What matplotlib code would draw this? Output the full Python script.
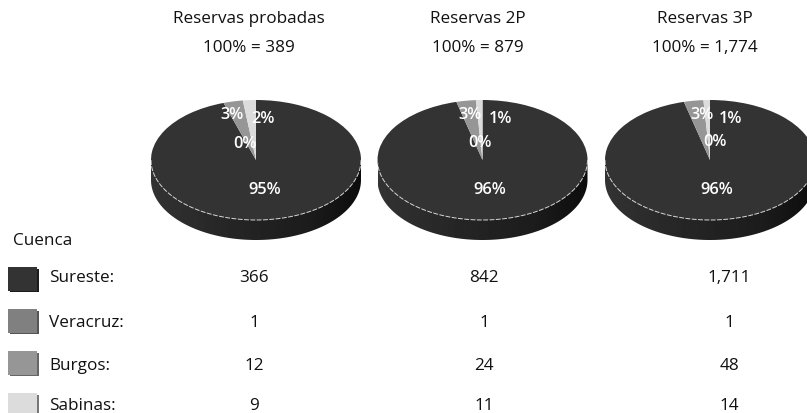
import numpy as np
import matplotlib
matplotlib.use("Agg")
import matplotlib.pyplot as plt
from matplotlib.patches import Rectangle
from matplotlib.path import Path
from matplotlib.patches import PathPatch

plt.rcParams['font.family'] = ['Open Sans', 'DejaVu Sans']

W, H = 807, 414

titles = ["Reservas probadas", "Reservas 2P", "Reservas 3P"]
totals = ["100% = 389", "100% = 879", "100% = 1,774"]
cuencas = ["Sureste:", "Veracruz:", "Burgos:", "Sabinas:"]
colores = ["#333333", "#808080", "#969696", "#dcdcdc"]
sombras = ["#1c1c1c", "#555555", "#666666", "#777777"]

# porcentajes por cuenca, en el orden de las rebanadas
pct_probadas = [95, 0, 3, 2]
pct_2p = [96, 0, 3, 1]
pct_3p = [96, 0, 3, 1]

# reservas por cuenca
res_probadas = ["366", "1", "12", "9"]
res_2p = ["842", "1", "24", "11"]
res_3p = ["1,711", "1", "48", "14"]

pcts = [pct_probadas, pct_2p, pct_3p]
reservas = [res_probadas, res_2p, res_3p]

centros = [256, 482.5, 710]
titulo_x = [249, 478, 705]
col_x = [254, 484, 729]
RX, RY, FONDO = 105, 60, 20
CY = 161
FS = 12.3
PESO = "medium"

# posiciones de las etiquetas: mayor, 0%, 3%, menor
pos_labels = [
    [(265, 190), (245, 144), (232, 115), (263, 119)],
    [(490, 190), (480, 143), (470, 115), (500, 119)],
    [(717, 190), (715, 142), (702, 115), (730, 119)],
]

fig = plt.figure(figsize=(W / 100, H / 100), dpi=100, facecolor="white")


def dibuja_pie(cx, valores):
    prof = FONDO / RY
    ax = fig.add_axes([(cx - RX) / W, 1 - (CY + RY + FONDO) / H,
                       2 * RX / W, (2 * RY + FONDO) / H])
    # costado del disco con degradado
    t = np.linspace(np.pi, 2 * np.pi, 120)
    xs = np.cos(t)
    ys = np.sin(t)
    verts = np.vstack([np.column_stack([xs, ys - prof]), [[1, 0], [-1, 0]], [[-1, -prof]]])
    clip = PathPatch(Path(verts), transform=ax.transData, fc="none", ec="none")
    ax.add_patch(clip)
    grad = np.interp(np.linspace(0, 1, 200), [0, 0.35, 0.75, 1], [0.20, 0.15, 0.11, 0.05])
    im = ax.imshow(grad[np.newaxis, :], cmap="gray", vmin=0, vmax=1, aspect="auto",
                   extent=(-1, 1, -1 - prof, 0), zorder=1)
    im.set_clip_path(clip)
    ax.pie(valores, colors=colores, startangle=90, counterclock=False, radius=1,
           wedgeprops={"linewidth": 0, "zorder": 2})
    # borde claro del disco superior
    ax.plot(xs, ys, color="#d8d8d8", lw=0.7, ls=(0, (5, 1.5)), zorder=3)
    ax.set_aspect("auto")
    ax.set_xlim(-1, 1)
    ax.set_ylim(-1 - prof, 1)
    ax.axis("off")


for cx, valores in zip(centros, pcts):
    dibuja_pie(cx, valores)

over = fig.add_axes([0, 0, 1, 1])
over.set_xlim(0, W)
over.set_ylim(H, 0)
over.axis("off")
over.patch.set_alpha(0)

for cx, tit, tot in zip(titulo_x, titles, totals):
    over.text(cx, 19, tit, ha="center", va="center", fontsize=FS, fontweight=PESO, color="#111111")
    over.text(cx, 48, tot, ha="center", va="center", fontsize=FS, fontweight=PESO, color="#111111")

for valores, posiciones in zip(pcts, pos_labels):
    for v, (x, y) in zip(valores, posiciones):
        over.text(x, y, f"{v}%", ha="center", va="center", fontsize=FS - 0.5,
                  fontweight="semibold", color="white")

over.text(13, 241, "Cuenca", ha="left", va="center", fontsize=FS, fontweight=PESO, color="#111111")

filas_y = [278, 323, 366, 406]
cajas_y = [268, 310, 352, 394]
for i, (nombre, y, cy) in enumerate(zip(cuencas, filas_y, cajas_y)):
    over.add_patch(Rectangle((10, cy + 2), 29, 23, fc=sombras[i], ec="none"))
    over.add_patch(Rectangle((8, cy), 29, 24, fc=colores[i], ec="none"))
    over.text(49, y, nombre, ha="left", va="center", fontsize=FS, fontweight=PESO, color="#111111")
    for x, col in zip(col_x, reservas):
        over.text(x, y, col[i], ha="center", va="center", fontsize=FS, fontweight=PESO, color="#111111")

fig.savefig("out.png", dpi=100, facecolor="white")
